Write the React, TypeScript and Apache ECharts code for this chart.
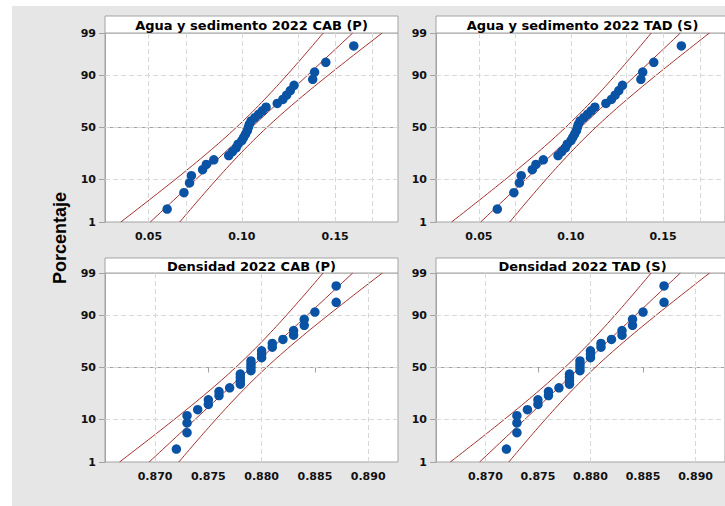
import React, { useEffect, useRef } from "react";
import * as echarts from "echarts";

// ---- data ----
const panelTitles = [
  "Agua y sedimento 2022 CAB (P)",
  "Agua y sedimento 2022 TAD (S)",
  "Densidad 2022 CAB (P)",
  "Densidad 2022 TAD (S)",
];

const aguaValues = [
  0.060, 0.069, 0.072, 0.073, 0.079, 0.081, 0.085, 0.093, 0.095, 0.097, 0.098,
  0.100, 0.101, 0.102, 0.103, 0.1035, 0.104, 0.105, 0.107, 0.109, 0.111, 0.113,
  0.119, 0.122, 0.124, 0.126, 0.128, 0.138, 0.139, 0.145, 0.160,
];

const densidadValues = [
  0.872, 0.873, 0.873, 0.873, 0.874, 0.875, 0.875, 0.876, 0.876, 0.877, 0.878,
  0.878, 0.878, 0.878, 0.879, 0.879, 0.879, 0.879, 0.880, 0.880, 0.880, 0.881,
  0.881, 0.882, 0.883, 0.883, 0.884, 0.884, 0.885, 0.887, 0.887,
];

const percentTicks = [1, 10, 50, 90, 99];
const percentGrid = [10, 50, 90];
const aguaTicks = [0.05, 0.1, 0.15];
const aguaGrid = [0.05, 0.075, 0.1, 0.125, 0.15, 0.175];
const densidadTicks = [0.87, 0.875, 0.88, 0.885, 0.89];
const densidadGrid = [0.8675, 0.87, 0.8725, 0.875, 0.8775, 0.88, 0.8825, 0.885, 0.8875, 0.89];

const yAxisTitle = "Porcentaje";

// ---- normal quantile (probability-paper scale) ----
function normInv(p: number): number {
  const a = [-3.969683028665376e1, 2.209460984245205e2, -2.759285104469687e2, 1.38357751867269e2, -3.066479806614716e1, 2.506628277459239];
  const b = [-5.447609879822406e1, 1.615858368580409e2, -1.556989798598866e2, 6.680131188771972e1, -1.328068155288572e1];
  const c = [-7.784894002430293e-3, -3.223964580411365e-1, -2.400758277161838, -2.549732539343734, 4.374664141464968, 2.938163982698783];
  const d = [7.784695709041462e-3, 3.224671290700398e-1, 2.445134137142996, 3.754408661907416];
  const pl = 0.02425;
  if (p < pl) {
    const q = Math.sqrt(-2 * Math.log(p));
    return (((((c[0] * q + c[1]) * q + c[2]) * q + c[3]) * q + c[4]) * q + c[5]) / ((((d[0] * q + d[1]) * q + d[2]) * q + d[3]) * q + 1);
  }
  if (p <= 1 - pl) {
    const q = p - 0.5;
    const r = q * q;
    return ((((((a[0] * r + a[1]) * r + a[2]) * r + a[3]) * r + a[4]) * r + a[5]) * q) / (((((b[0] * r + b[1]) * r + b[2]) * r + b[3]) * r + b[4]) * r + 1);
  }
  const q = Math.sqrt(-2 * Math.log(1 - p));
  return -(((((c[0] * q + c[1]) * q + c[2]) * q + c[3]) * q + c[4]) * q + c[5]) / ((((d[0] * q + d[1]) * q + d[2]) * q + d[3]) * q + 1);
}

const zMin = normInv(0.01);
const zMax = normInv(0.99);
const zTicks = percentTicks.map((p) => normInv(p / 100));
const zGrid = percentGrid.map((p) => normInv(p / 100));

function probPoints(values: number[]) {
  const n = values.length;
  const sorted = [...values].sort((x, y) => x - y);
  return sorted.map((v, i) => [v, normInv((i + 1 - 0.3) / (n + 0.4))]);
}

function fitCurves(values: number[]) {
  const n = values.length;
  const mean = values.reduce((s, v) => s + v, 0) / n;
  const sd = Math.sqrt(values.reduce((s, v) => s + (v - mean) ** 2, 0) / (n - 1));
  const fit: number[][] = [];
  const lo: number[][] = [];
  const hi: number[][] = [];
  const steps = 60;
  for (let k = 0; k <= steps; k++) {
    const z = zMin + ((zMax - zMin) * k) / steps;
    const x = mean + z * sd;
    const h = 1.96 * sd * Math.sqrt((1 + (z * z) / 2) / n);
    fit.push([x, z]);
    lo.push([x - h, z]);
    hi.push([x + h, z]);
  }
  return { fit, lo, hi };
}

const GRAY = "#a3a3a3";
const RED = "#a52f2f";
const BLUE = "#0a52a3";
const FONT = "DejaVu Sans";

export default function App() {
  const ref = useRef<HTMLDivElement>(null);

  useEffect(() => {
    if (!ref.current) return;
    const chart = echarts.init(ref.current, undefined, { renderer: "svg" });

    const gridsPos = [
      { left: 105, top: 33, width: 293, height: 189 },
      { left: 436, top: 33, width: 293, height: 189 },
      { left: 105, top: 273, width: 293, height: 189 },
      { left: 436, top: 273, width: 293, height: 189 },
    ];
    const panelData = [aguaValues, aguaValues, densidadValues, densidadValues];
    const panelTicks = [aguaTicks, aguaTicks, densidadTicks, densidadTicks];
    const panelGridX = [aguaGrid, aguaGrid, densidadGrid, densidadGrid];
    const panelRange = [
      [0.0267, 0.1837],
      [0.0267, 0.1837],
      [0.8653, 0.8928],
      [0.8653, 0.8928],
    ];
    const decimals = [2, 2, 3, 3];

    const grid = gridsPos.map((g) => ({
      ...g,
      show: true,
      backgroundColor: "#ffffff",
      borderColor: GRAY,
      borderWidth: 1,
      containLabel: false,
    }));

    const xAxis = gridsPos.map((_, i) => ({
      type: "value",
      gridIndex: i,
      min: panelRange[i][0],
      max: panelRange[i][1],
      axisLine: { show: true, lineStyle: { color: GRAY } },
      axisTick: { show: true, length: 5, customValues: panelTicks[i], lineStyle: { color: GRAY } },
      axisLabel: {
        customValues: panelTicks[i],
        formatter: (v: number) => v.toFixed(decimals[i]),
        margin: 9,
        color: "#111",
        fontFamily: FONT,
        fontWeight: "bold",
        fontSize: 11,
      },
      splitLine: { show: false },
    }));

    const yAxis = gridsPos.map((_, i) => ({
      type: "value",
      gridIndex: i,
      min: zMin,
      max: zMax,
      axisLine: { show: true, lineStyle: { color: GRAY } },
      axisTick: { show: true, length: 6, customValues: zTicks, lineStyle: { color: GRAY } },
      axisLabel: {
        customValues: zTicks,
        formatter: (v: number) => {
          let best = 0;
          zTicks.forEach((z, k) => {
            if (Math.abs(z - v) < Math.abs(zTicks[best] - v)) best = k;
          });
          return String(percentTicks[best]);
        },
        margin: 9,
        color: "#111",
        fontFamily: FONT,
        fontWeight: "bold",
        fontSize: 11,
      },
      splitLine: { show: false },
    }));

    const series: any[] = [];
    gridsPos.forEach((_, i) => {
      const curves = fitCurves(panelData[i]);
      series.push({
        type: "line",
        xAxisIndex: i,
        yAxisIndex: i,
        data: [],
        z: 1,
        silent: true,
        markLine: {
          silent: true,
          symbol: "none",
          label: { show: false },
          lineStyle: { type: [5, 3], color: "#d9d9d9", width: 1 },
          data: [
            ...panelGridX[i].map((v) => ({ xAxis: v })),
            ...zGrid.map((v) => ({ yAxis: v })),
          ],
        },
      });
      [curves.lo, curves.fit, curves.hi].forEach((d) => {
        series.push({
          type: "line",
          xAxisIndex: i,
          yAxisIndex: i,
          data: d,
          showSymbol: false,
          symbol: "none",
          z: 2,
          silent: true,
          lineStyle: { color: RED, width: 1 },
        });
      });
      series.push({
        type: "scatter",
        xAxisIndex: i,
        yAxisIndex: i,
        data: probPoints(panelData[i]),
        symbol: "circle",
        symbolSize: 9.5,
        z: 5,
        itemStyle: { color: BLUE, opacity: 1 },
      });
    });

    const titleBoxes = gridsPos.map((g, i) => {
      const top = i < 2 ? 16 : 258;
      const h = g.top - top;
      return [
        {
          type: "rect",
          shape: { x: g.left, y: top, width: g.width, height: h },
          style: { fill: "#ffffff", stroke: GRAY, lineWidth: 1 },
          z: 1,
        },
        {
          type: "text",
          x: g.left + g.width / 2,
          y: top + h / 2 + 0.5,
          style: {
            text: panelTitles[i],
            fill: "#000",
            font: `bold 13px "${FONT}"`,
            textAlign: "center",
            textVerticalAlign: "middle",
          },
          z: 2,
        },
      ];
    }).flat();

    chart.setOption({
      animation: false,
      backgroundColor: "#e6e6e6",
      grid,
      xAxis,
      yAxis,
      series,
      graphic: [
        { type: "rect", shape: { x: 0, y: 0, width: 725, height: 6 }, style: { fill: "#ffffff" }, z: 0 },
        { type: "rect", shape: { x: 0, y: 0, width: 12, height: 506 }, style: { fill: "#ffffff" }, z: 0 },
        ...titleBoxes,
        {
          type: "text",
          x: 60,
          y: 238,
          rotation: Math.PI / 2,
          style: {
            text: yAxisTitle,
            fill: "#000",
            font: `bold 18px "Liberation Sans"`,
            textAlign: "center",
            textVerticalAlign: "middle",
          },
          z: 2,
        },
      ],
    });

    return () => chart.dispose();
  }, []);

  return (
    <div
      ref={ref}
      style={{ position: "fixed", left: 0, top: 0, width: 725, height: 506 }}
    />
  );
}
